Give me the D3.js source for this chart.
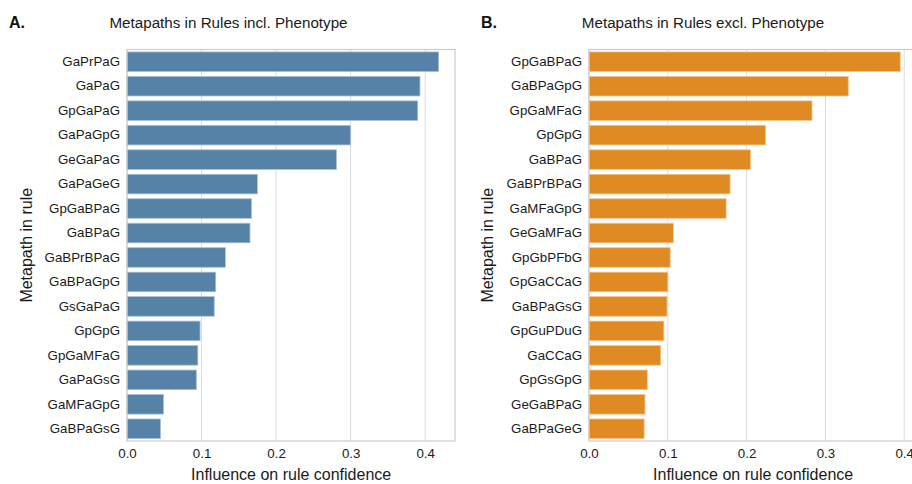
<!DOCTYPE html>
<html>
<head>
<meta charset="utf-8">
<script src="https://cdn.jsdelivr.net/npm/d3@7"></script>
<style>
  html, body { margin: 0; padding: 0; background: #fff; }
  svg { display: block; font-family: "Liberation Sans", Arial, Helvetica, sans-serif; }
</style>
</head>
<body>
<svg id="chart" width="912" height="484"></svg>
<script>
// Metapaths and their influence on rule confidence, panel A (incl. phenotype)
const pathsIncl = ["GaPrPaG", "GaPaG", "GpGaPaG", "GaPaGpG", "GeGaPaG", "GaPaGeG", "GpGaBPaG", "GaBPaG",
  "GaBPrBPaG", "GaBPaGpG", "GsGaPaG", "GpGpG", "GpGaMFaG", "GaPaGsG", "GaMFaGpG", "GaBPaGsG"];
const influenceIncl = [0.418, 0.393, 0.390, 0.300, 0.281, 0.175, 0.167, 0.165,
  0.132, 0.119, 0.117, 0.098, 0.095, 0.093, 0.049, 0.045];

// Panel B (excl. phenotype)
const pathsExcl = ["GpGaBPaG", "GaBPaGpG", "GpGaMFaG", "GpGpG", "GaBPaG", "GaBPrBPaG", "GaMFaGpG", "GeGaMFaG",
  "GpGbPFbG", "GpGaCCaG", "GaBPaGsG", "GpGuPDuG", "GaCCaG", "GpGsGpG", "GeGaBPaG", "GaBPaGeG"];
const influenceExcl = [0.395, 0.329, 0.283, 0.224, 0.205, 0.179, 0.174, 0.107,
  0.103, 0.100, 0.099, 0.095, 0.091, 0.074, 0.071, 0.070];

const xTicks = [0.0, 0.1, 0.2, 0.3, 0.4];

const svg = d3.select("#chart");

const panels = [
  { letter: "A.", title: "Metapaths in Rules incl. Phenotype", cats: pathsIncl, vals: influenceIncl,
    left: 127, right: 455, titleX: 228.5, letterX: 9, yLabelX: 32, color: "#5682a8", edge: "#a8c0d6" },
  { letter: "B.", title: "Metapaths in Rules excl. Phenotype", cats: pathsExcl, vals: influenceExcl,
    left: 589, right: 589 + 0.44 * 788, titleX: 703, letterX: 481, yLabelX: 493, color: "#df8a22", edge: "#f3c48c" }
];

const plotTop = 49.5, plotBottom = 441;

panels.forEach(p => {
  const g = svg.append("g");
  const x = d3.scaleLinear().domain([0, 0.44]).range([p.left, p.right]);
  const y = d3.scaleBand().domain(p.cats).range([plotTop, plotBottom]).paddingInner(0.2).paddingOuter(0.1);

  // grid lines
  g.append("g").selectAll("line").data(xTicks).join("line")
    .attr("x1", d => x(d)).attr("x2", d => x(d))
    .attr("y1", plotTop).attr("y2", plotBottom)
    .attr("stroke", "#dcdcdc").attr("stroke-width", 1);

  // bars
  g.append("g").selectAll("rect").data(p.cats).join("rect")
    .attr("x", x(0))
    .attr("y", d => y(d))
    .attr("width", (d, i) => x(p.vals[i]) - x(0))
    .attr("height", y.bandwidth())
    .attr("fill", p.color)
    .attr("stroke", p.edge)
    .attr("stroke-width", 0.8);

  // frame
  g.append("rect")
    .attr("x", p.left).attr("y", plotTop)
    .attr("width", p.right - p.left).attr("height", plotBottom - plotTop)
    .attr("fill", "none").attr("stroke", "#cccccc").attr("stroke-width", 1.2);

  // y axis (category labels)
  const yAxis = d3.axisLeft(y).tickSize(0).tickPadding(7);
  const ya = g.append("g").attr("transform", `translate(${p.left},0)`).call(yAxis);
  ya.select(".domain").remove();
  ya.selectAll("text").attr("font-size", 13.3).attr("fill", "#1a1a1a")
    .attr("font-family", "Liberation Sans, Arial, sans-serif");

  // x axis
  const xAxis = d3.axisBottom(x).tickValues(xTicks).tickFormat(d3.format(".1f")).tickSize(0).tickPadding(8);
  const xa = g.append("g").attr("transform", `translate(0,${plotBottom})`).call(xAxis);
  xa.select(".domain").remove();
  xa.selectAll("text").attr("font-size", 13.3).attr("fill", "#1a1a1a")
    .attr("font-family", "Liberation Sans, Arial, sans-serif");

  // axis titles
  g.append("text")
    .attr("x", (p.left + (p.left + 0.44 * 746)) / 2)
    .attr("y", 480)
    .attr("text-anchor", "middle")
    .attr("font-size", 16)
    .attr("fill", "#1a1a1a")
    .text("Influence on rule confidence");

  g.append("text")
    .attr("transform", `translate(${p.yLabelX},${(plotTop + plotBottom) / 2}) rotate(-90)`)
    .attr("text-anchor", "middle")
    .attr("font-size", 16)
    .attr("fill", "#1a1a1a")
    .text("Metapath in rule");

  // panel title and letter
  g.append("text")
    .attr("x", p.titleX).attr("y", 27.5)
    .attr("text-anchor", "middle")
    .attr("font-size", 15.2)
    .attr("fill", "#1a1a1a")
    .text(p.title);

  g.append("text")
    .attr("x", p.letterX).attr("y", 28)
    .attr("font-size", 16)
    .attr("font-weight", "bold")
    .attr("fill", "#111")
    .text(p.letter);
});
</script>
</body>
</html>
